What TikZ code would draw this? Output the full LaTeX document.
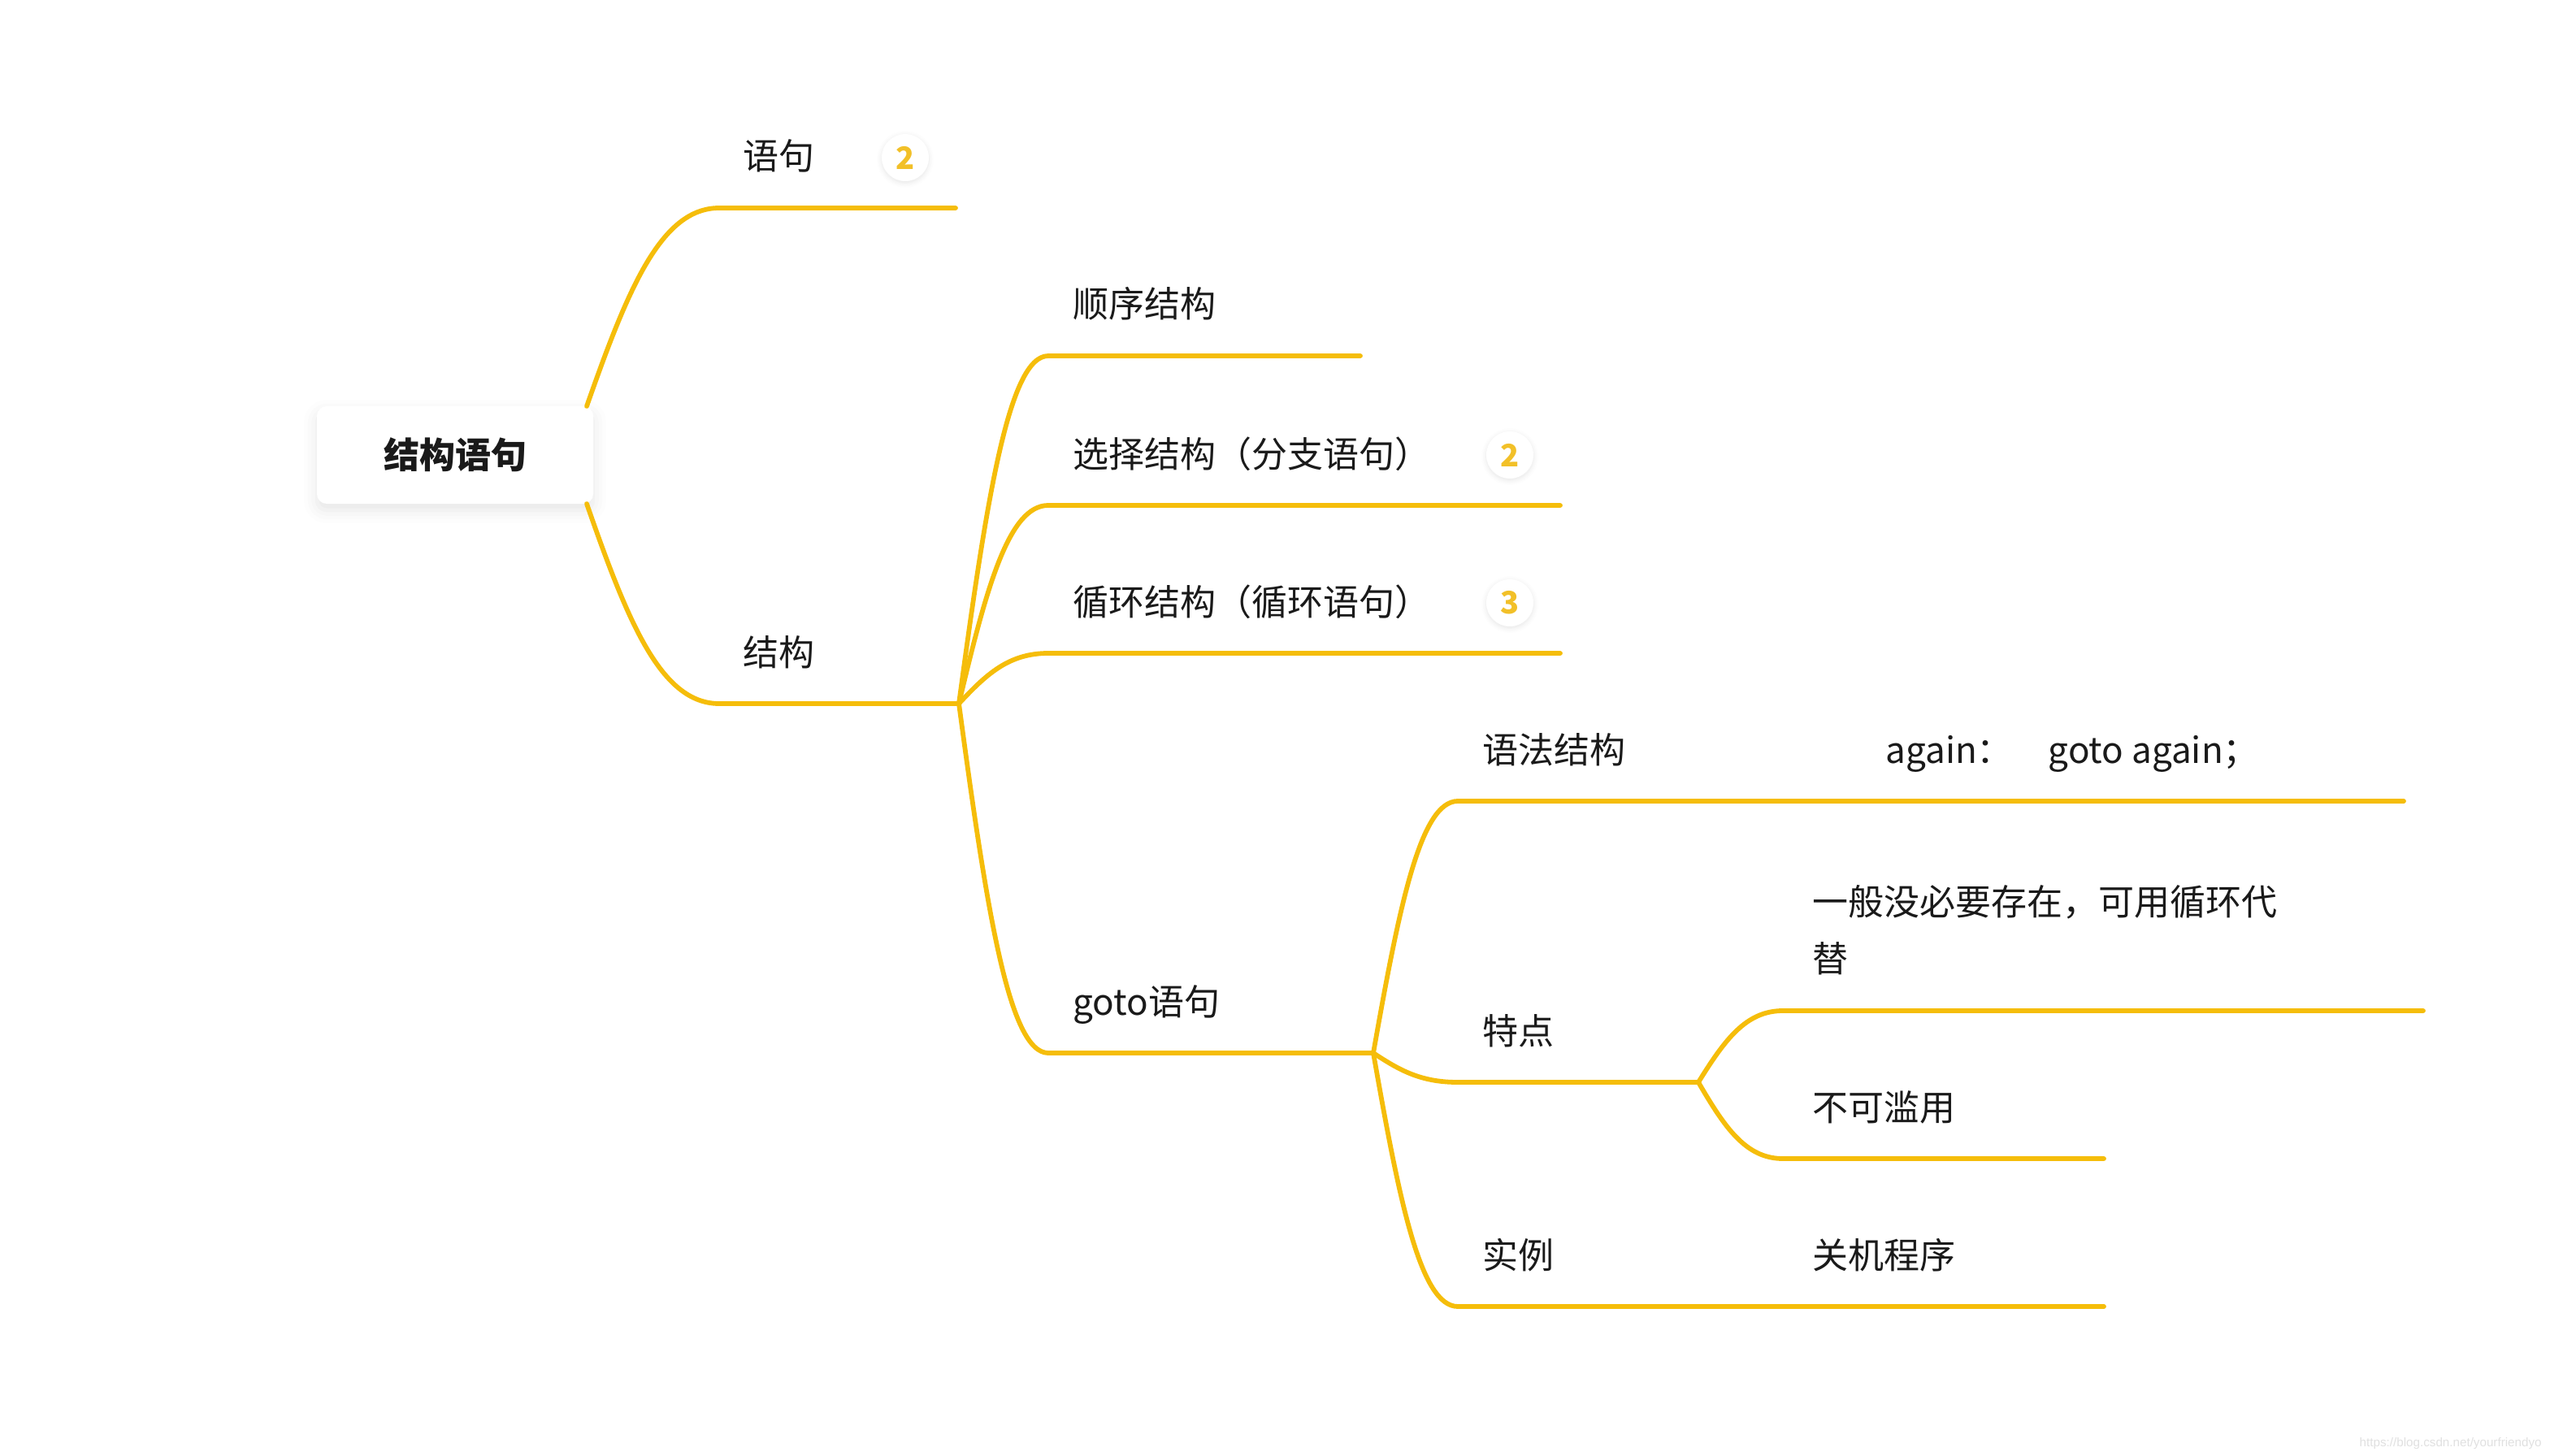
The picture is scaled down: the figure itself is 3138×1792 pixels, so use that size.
\documentclass[tikz,border=0pt]{standalone}
\usepackage{fontspec}
\setmainfont{Noto Sans CJK SC}
\newfontfamily\markfont{Liberation Sans}
\usetikzlibrary{calc,shadows.blur}
\definecolor{branch}{RGB}{245,189,10}
\definecolor{badgetext}{RGB}{242,192,40}
\definecolor{ink}{RGB}{26,26,26}

\begin{document}
\begin{tikzpicture}[x=0.5pt,y=-0.5pt,
  branchline/.style={draw=branch, line width=2.9pt, line cap=round, line join=round},
  curvy/.style={to path={let \p1=(\tikztostart), \p2=(\tikztotarget) in
     .. controls ({\x1+0.31*(\x2-\x1)},{\y1+0.59*(\y2-\y1)})
     and ({\x1+0.56*(\x2-\x1)},{\y2}) .. (\tikztotarget)}},
  topic/.style={anchor=base west, inner sep=0pt, text=ink,
     font=\fontsize{22pt}{35pt}\selectfont},
  badge/.style={circle, fill=white, minimum size=29pt, inner sep=0pt,
     text=badgetext, font=\bfseries\fontsize{19pt}{19pt}\selectfont,
     blur shadow={shadow xshift=0pt, shadow yshift=-1pt,
       shadow blur radius=3pt, shadow opacity=10}},
  rootbox/.style={rounded corners=6pt, fill=white, minimum width=170pt,
     minimum height=60pt, inner sep=0pt, text=ink,
     font=\bfseries\fontsize{22pt}{22pt}\selectfont,
     blur shadow={shadow xshift=0pt, shadow yshift=-4pt,
       shadow blur radius=8pt, shadow opacity=10}},
]
\useasboundingbox (0,0) rectangle (3138,1792);

% central topic
\node[rootbox] (root) at (560,560) {结构语句};
\coordinate (rt) at (722,500);
\coordinate (rb) at (722,620);

% level 1
\coordinate (s-yj) at (885,256);   \coordinate (e-yj) at (1176,256);
\coordinate (s-jg) at (885,866);   \coordinate (e-jg) at (1180,866);
\draw[branchline] (rt) to[curvy] (s-yj) -- (e-yj);
\draw[branchline] (rb) to[curvy] (s-jg) -- (e-jg);
\node[topic] (yj) at (914,209) {语句};
\node[badge] (yj-n) at (1114,194) {2};
\node[topic] (jg) at (914,819) {结构};

% level 2 under 结构
\coordinate (s-sx) at (1290,438);  \coordinate (e-sx) at (1674,438);
\coordinate (s-xz) at (1290,622);  \coordinate (e-xz) at (1920,622);
\coordinate (s-xh) at (1290,804);  \coordinate (e-xh) at (1920,804);
\coordinate (s-gt) at (1290,1296); \coordinate (e-gt) at (1690,1296);
\draw[branchline] (e-jg) to[curvy] (s-sx) -- (e-sx);
\draw[branchline] (e-jg) to[curvy] (s-xz) -- (e-xz);
\draw[branchline] (e-jg) to[curvy] (s-xh) -- (e-xh);
\draw[branchline] (e-jg) to[curvy] (s-gt) -- (e-gt);
\node[topic] (sx) at (1320,391) {顺序结构};
\node[topic] (xz) at (1320,575) {选择结构（分支语句）};
\node[badge] (xz-n) at (1858,560) {2};
\node[topic] (xh) at (1320,757) {循环结构（循环语句）};
\node[badge] (xh-n) at (1858,742) {3};
\node[topic] (gt) at (1320,1249) {goto语句};

% level 3 under goto语句
\coordinate (s-yf) at (1794,986);  \coordinate (e-yf) at (2176,986);
\coordinate (s-td) at (1794,1332); \coordinate (e-td) at (2090,1332);
\coordinate (s-sl) at (1794,1608); \coordinate (e-sl) at (2080,1608);
\draw[branchline] (e-gt) to[curvy] (s-yf) -- (e-yf);
\draw[branchline] (e-gt) to[curvy] (s-td) -- (e-td);
\draw[branchline] (e-gt) to[curvy] (s-sl) -- (e-sl);
\node[topic] (yf) at (1824,939) {语法结构};
\node[topic] (td) at (1824,1285) {特点};
\node[topic] (sl) at (1824,1561) {实例};

% level 4
\coordinate (e-ag) at (2958,986);
\draw[branchline] (e-yf) -- (e-ag);
\node[topic] (ag) at (2320,939) {again：\hspace{22pt}goto again；};

\coordinate (s-yb) at (2194,1244); \coordinate (e-yb) at (2982,1244);
\coordinate (s-bk) at (2194,1426); \coordinate (e-bk) at (2589,1426);
\draw[branchline] (e-td) to[curvy] (s-yb) -- (e-yb);
\draw[branchline] (e-td) to[curvy] (s-bk) -- (e-bk);
\node[topic, anchor=north west, align=left] (yb) at (2230,1089)
  {一般没必要存在，可用循环代\\替};
\node[topic] (bk) at (2230,1379) {不可滥用};

\coordinate (e-gj) at (2589,1608);
\draw[branchline] (e-sl) -- (e-gj);
\node[topic] (gj) at (2230,1561) {关机程序};

% faint address in the corner
\node[anchor=base east, inner sep=0pt, text=black!12,
  font=\markfont\fontsize{7.6pt}{9pt}\selectfont] (wm) at (3128,1780)
  {https://blog.csdn.net/yourfriendyo};
\end{tikzpicture}
\end{document}
